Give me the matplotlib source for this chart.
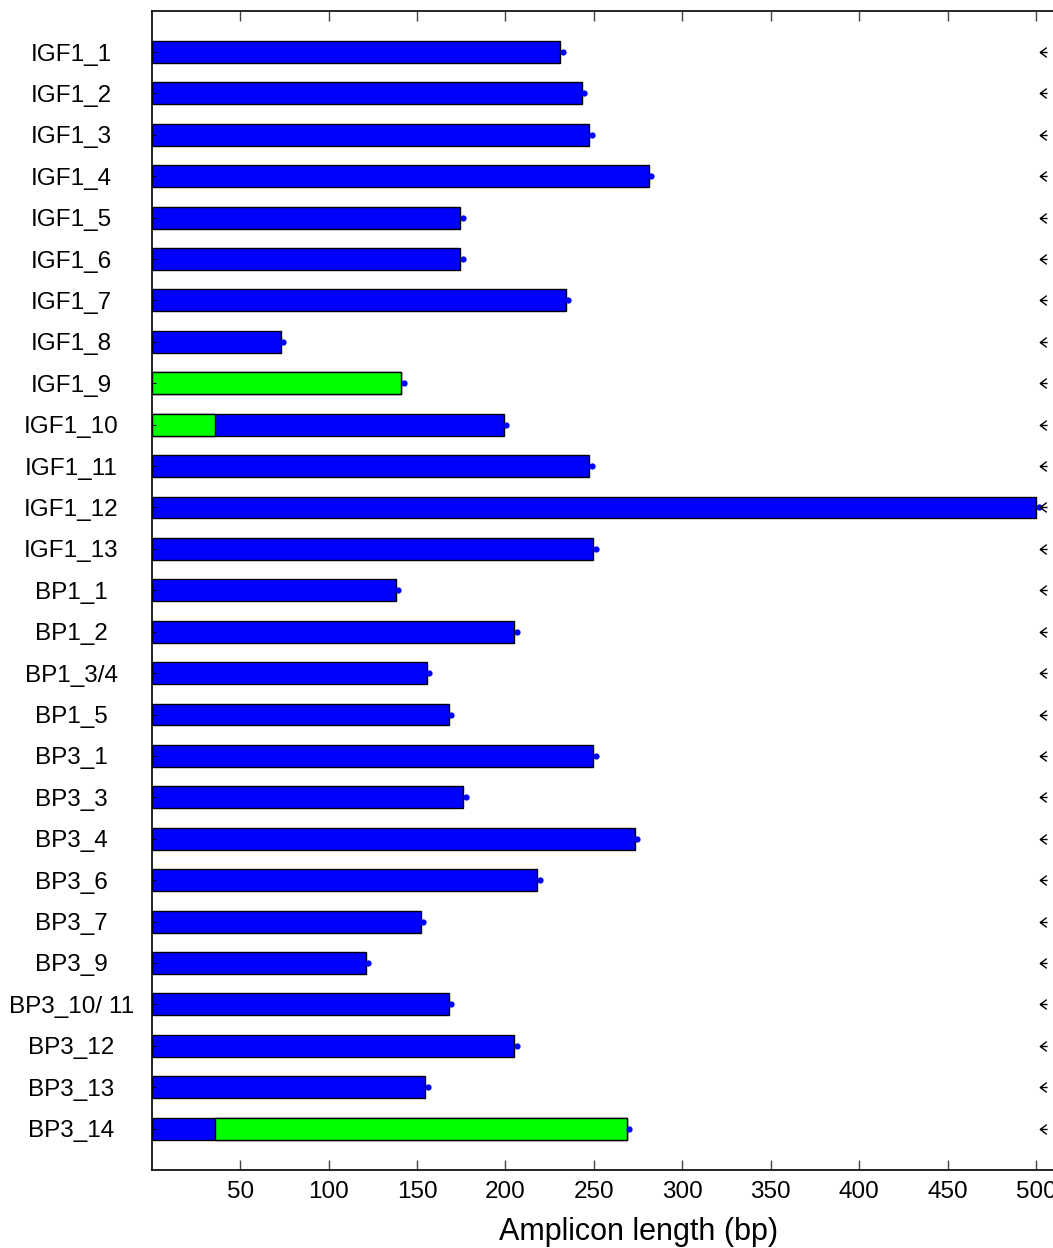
import matplotlib
matplotlib.use("Agg")
import matplotlib.pyplot as plt
from matplotlib.path import Path
import numpy as np

plt.rcParams['font.family'] = ['Liberation Sans', 'DejaVu Sans']

# amplicon names, top to bottom
names = ["IGF1_1", "IGF1_2", "IGF1_3", "IGF1_4", "IGF1_5", "IGF1_6", "IGF1_7",
         "IGF1_8", "IGF1_9", "IGF1_10", "IGF1_11", "IGF1_12", "IGF1_13",
         "BP1_1", "BP1_2", "BP1_3/4", "BP1_5", "BP3_1", "BP3_3", "BP3_4",
         "BP3_6", "BP3_7", "BP3_9", "BP3_10/ 11", "BP3_12", "BP3_13", "BP3_14"]

# total amplicon length (bp)
length = [231, 243, 247.5, 281, 174.5, 174.5, 234, 73, 141, 199, 247.5, 500, 249.5,
          138, 205, 155.5, 168, 249.5, 176, 273, 218, 152, 121, 168, 205, 154.5, 268.5]

# green part of the amplicon (start, end), 0/0 = none
green_from = [0, 0, 0, 0, 0, 0, 0, 0, 0, 0, 0, 0, 0,
              0, 0, 0, 0, 0, 0, 0, 0, 0, 0, 0, 0, 0, 36]
green_to = [0, 0, 0, 0, 0, 0, 0, 0, 141, 36, 0, 0, 0,
            0, 0, 0, 0, 0, 0, 0, 0, 0, 0, 0, 0, 0, 268.5]

marker_x = 504  # position of the arrow marks on the right

xticks = [50, 100, 150, 200, 250, 300, 350, 400, 450, 500]

pos = np.arange(1, len(names) + 1)

# short "<" arrowhead with a small tail
arrow = Path([(0.4, 0.6), (-0.4, 0.0), (0.4, -0.6), (-0.4, 0.0), (0.5, 0.0)],
             [Path.MOVETO, Path.LINETO, Path.LINETO, Path.MOVETO, Path.LINETO])

fig = plt.figure(figsize=(10.53, 12.48), dpi=100)
# axes runs off the right side like the original crop
ax = fig.add_axes([0.144, 0.0625, 0.924, 0.929])

# blue bars (full length)
ax.barh(pos, length, height=0.53, color='#0000ff', edgecolor='black', linewidth=1)
# green parts
gf = np.array(green_from)
gt = np.array(green_to)
has_g = gt > 0
ax.barh(pos[has_g], (gt - gf)[has_g], left=gf[has_g], height=0.53,
        color='#00ff00', edgecolor='black', linewidth=1)

# small blue dots at the bar ends
ax.plot(np.array(length) + 1.5, pos, 'o', color='#0000ff', ms=4.5, mew=0)

# arrow marks on the right
ax.plot([marker_x] * len(pos), pos, marker=arrow, ls='none', color='black',
        mfc='none', ms=7, mew=1)

ax.set_xlim(0, 550)
ax.set_ylim(28, 0)

ax.set_xticks(xticks)
ax.set_xticklabels([str(t) for t in xticks], fontsize=17.5)
ax.set_yticks(pos)
ax.set_yticklabels(names, fontsize=17.5, ha='center')
ax.tick_params(axis='x', direction='in', length=7, top=True, width=1, color='#444444', pad=8)
ax.tick_params(axis='y', direction='in', length=3, width=0.8, pad=58)

ax.set_xlabel("Amplicon length (bp)", fontsize=22, labelpad=10)

for s in ax.spines.values():
    s.set_linewidth(1.2)

fig.savefig("out.png", dpi=100)
